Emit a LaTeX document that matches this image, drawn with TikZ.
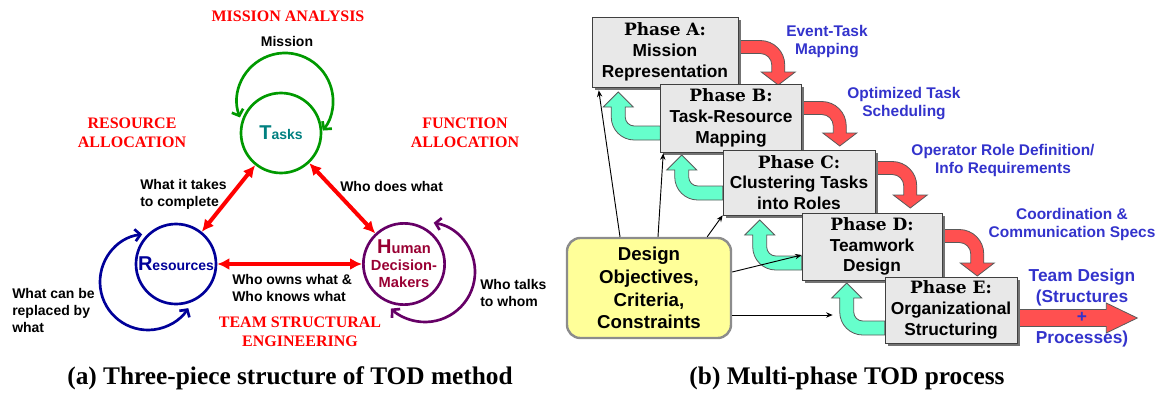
\documentclass[tikz,border=0pt]{standalone}
\usepackage{fontspec}
\setmainfont{Liberation Serif}
\setsansfont{Liberation Sans}
\newfontfamily\phasefont{DejaVu Serif}
\usepackage{tikz}
\usetikzlibrary{calc,positioning,arrows.meta,shadows,backgrounds}
\definecolor{taskGreen}{HTML}{009900}
\definecolor{taskTeal}{HTML}{008080}
\definecolor{resBlue}{HTML}{000099}
\definecolor{dmPurple}{HTML}{660066}
\definecolor{dmMaroon}{HTML}{990033}
\definecolor{flowRed}{HTML}{FF5050}
\definecolor{flowMint}{HTML}{66FFCC}
\definecolor{noteBlue}{HTML}{3333CC}
\definecolor{phaseGray}{HTML}{E8E8E8}
\definecolor{goalYellow}{HTML}{FFFF99}

% block arrow: right, then bend down (start, run, drop)
\newcommand{\downflow}[3]{%
  \filldraw[redflow] (#1) ++(0,6.5) -- ++({#2-18},0) arc[start angle=90,end angle=0,radius=24.5]
    -- ++(0,{-(#3-18)}) -- ++(10.5,0) -- ++(-17,-13) -- ++(-17,13) -- ++(10.5,0)
    -- ++(0,{#3-18}) arc[start angle=0,end angle=90,radius=11.5] -- ++({-(#2-18)},0) -- cycle;}
% block arrow: left, then bend up (start, run, rise)
\newcommand{\upflow}[3]{%
  \filldraw[mintflow] (#1) ++(0,-7) -- ++({-(#2-16)},0) arc[start angle=270,end angle=180,radius=23]
    -- ++(0,{#3-16}) -- ++(-8,0) -- ++(15,15) -- ++(15,-15) -- ++(-8,0)
    -- ++(0,{-(#3-16)}) arc[start angle=180,end angle=270,radius=9] -- ++({#2-16},0) -- cycle;}

\begin{document}
\begin{tikzpicture}[x=0.75pt, y=0.75pt,
    hub/.style={circle, line width=2pt, minimum size=60pt, inner sep=0pt, align=center, font=\sffamily\bfseries\fontsize{10.5}{12.5}\selectfont},
    note/.style={font=\sffamily\bfseries\fontsize{10.5}{12.75}\selectfont, align=left, inner sep=0pt},
    area/.style={text=red, font=\bfseries\fontsize{12}{14.25}\selectfont, align=center, inner sep=0pt},
    caption/.style={font=\bfseries\fontsize{19}{22}\selectfont, inner sep=0pt},
    link/.style={{Latex[length=9pt,width=9pt]}-{Latex[length=9pt,width=9pt]}, red, line width=3pt},
    selfloop/.style={{Straight Barb[length=4pt,width=9pt]}-{Straight Barb[length=4pt,width=9pt]}, line width=2pt},
    phase/.style={draw=black!75, fill=phaseGray, inner sep=0pt, align=center, font=\sffamily\bfseries\fontsize{13}{15.5}\selectfont, drop shadow={shadow xshift=2.2pt, shadow yshift=-2.2pt, fill=black!55, opacity=1}},
    goal/.style={draw=black!45, line width=1.8pt, fill=goalYellow, rounded corners=10pt, minimum width=123pt, minimum height=75pt, align=center, font=\sffamily\bfseries\fontsize{14}{17}\selectfont},
    flownote/.style={text=noteBlue, font=\sffamily\bfseries\fontsize{11.6}{13}\selectfont, align=center, inner sep=0pt},
    redflow/.style={draw=black!65, fill=flowRed, line width=0.6pt},
    mintflow/.style={draw=black!65, fill=flowMint, line width=0.6pt},
    feed/.style={-{Stealth[length=5pt,width=4pt]}, line width=0.7pt}
]
\useasboundingbox (0,0) rectangle (1158,-393);

% (a) three pieces
\node[area] (mission) at (288,-16) {MISSION ANALYSIS};
\node[note, align=center] (missionlbl) at (287,-41) {Mission};
\node[hub, draw=taskGreen, text=taskTeal] (tasks) at (281,-133) {{\fontsize{15}{15}\selectfont T}asks};
\node[hub, draw=resBlue, text=resBlue] (res) at (176,-264) {{\fontsize{15}{15}\selectfont R}esources};
\node[hub, draw=dmPurple, text=dmMaroon, font=\sffamily\bfseries\fontsize{11}{12.75}\selectfont] (hdm) at (404,-264) {{\fontsize{15}{15}\selectfont H}uman\\Decision-\\Makers};
\node[area] (resalloc) at (132,-132.5) {RESOURCE\\ALLOCATION};
\node[area] (funcalloc) at (465,-133) {FUNCTION\\ALLOCATION};
\node[area] (teameng) at (300,-331.5) {TEAM STRUCTURAL\\ENGINEERING};

\coordinate (tloop) at ($(tasks)+(4,32)$);
\coordinate (rloop) at ($(res)+(-28,-18)$);
\coordinate (hloop) at ($(hdm)+(21,-8)$);
\draw[selfloop, taskGreen] ([shift={(200:48)}]tloop) arc[start angle=200, end angle=-38, radius=48];
\draw[selfloop, resBlue] ([shift={(97:48)}]rloop) arc[start angle=97, end angle=327, radius=48];
\draw[selfloop, dmPurple] ([shift={(80:50)}]hloop) arc[start angle=80, end angle=-133, radius=50];

\draw[link] (tasks) -- (res);
\draw[link] (tasks) -- (hdm);
\draw[link] (res) -- (hdm);

\node[note, anchor=west] (takes) at (140,-194.5) {What it takes\\to complete};
\node[note, anchor=west] (does) at (340,-186) {Who does what};
\node[note, anchor=west] (owns) at (232,-287.5) {Who owns what \&\\Who knows what};
\node[note, anchor=west] (replaced) at (12,-310.5) {What can be\\replaced by\\what};
\node[note, anchor=west] (talks) at (480,-293) {Who talks\\to whom};
\node[caption] (capa) at (290,-378) {(a) Three-piece structure of TOD method};

% (b) phases
\node[phase, minimum width=109.5pt, minimum height=52.5pt] (phA) at (665,-52) {{\phasefont\fontsize{12.75}{15.5}\selectfont Phase A:}\\Mission\\Representation};
\node[phase, minimum width=105.75pt, minimum height=51pt] (phB) at (731,-118) {{\phasefont\fontsize{12.75}{15.5}\selectfont Phase B:}\\Task-Resource\\Mapping};
\node[phase, minimum width=114pt, minimum height=48.75pt] (phC) at (799,-182.5) {{\phasefont\fontsize{12.75}{15.5}\selectfont Phase C:}\\Clustering Tasks\\into Roles};
\node[phase, minimum width=105pt, minimum height=50.25pt] (phD) at (872,-246.5) {{\phasefont\fontsize{12.75}{15.5}\selectfont Phase D:}\\Teamwork\\Design};
\node[phase, minimum width=99pt, minimum height=49.5pt] (phE) at (951,-310) {{\phasefont\fontsize{12.75}{15.5}\selectfont Phase E:}\\Organizational\\Structuring};
\node[goal] (goals) at (649,-288) {Design\\Objectives,\\Criteria,\\Constraints};

\begin{pgfonlayer}{background}
\downflow{$(phA.east)+(0,5)$}{40}{25}
\downflow{$(phB.east)+(0,10)$}{38}{25}
\downflow{$(phC.east)+(0,14.5)$}{35}{27}
\downflow{$(phD.east)+(0,10.5)$}{35}{27}
\upflow{$(phB.west)+(0,-15)$}{42}{26}
\upflow{$(phC.west)+(0,-10.5)$}{41}{23}
\upflow{$(phD.west)+(0,-16.5)$}{42}{28}
\upflow{$(phE.west)+(0,-18)$}{38}{30}
\filldraw[redflow] ($(phE.east)+(0,-8)$) ++(0,8.5) -- ++(89,0) -- ++(0,6.5) -- ++(31,-15) -- ++(-31,-15) -- ++(0,6.5) -- ++(-89,0) -- cycle;
\end{pgfonlayer}

\node[flownote] (evtask) at (827,-41.5) {Event-Task\\Mapping};
\node[flownote] (optsched) at (904,-103.5) {Optimized Task\\Scheduling};
\node[flownote] (oprole) at (1003,-160.5) {Operator Role Definition/\\Info Requirements};
\node[flownote] (coord) at (1072,-224.5) {Coordination \&\\Communication Specs};
\node[flownote, font=\sffamily\bfseries\fontsize{13}{15.5}\selectfont] (teamout) at (1082,-308) {Team Design\\(Structures\\+\\Processes)};

\coordinate (eIn) at ($(phE.west)+(-52,-5)$);
\draw[feed] ($(goals.north)+(-29,0)$) -- ($(phA.south west)+(7,-3)$);
\draw[feed] ($(goals.north)+(9,0)$) -- ($(phB.south west)+(3,-1)$);
\draw[feed] ($(goals.north east)+(-25,0)$) -- (phC.south west);
\draw[feed] ($(goals.east)+(0,16)$) -- ($(phD.west)+(0,-8.5)$);
\draw[feed] (goals.east |- eIn) -- (eIn);

\node[caption] (capb) at (847,-378) {(b) Multi-phase TOD process};
\end{tikzpicture}
\end{document}
